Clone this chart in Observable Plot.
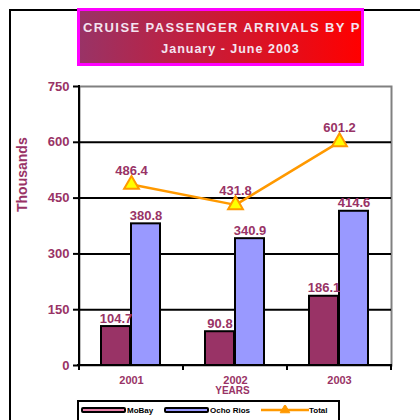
<!DOCTYPE html>
<html>
<head>
<meta charset="utf-8">
<script src="https://cdn.jsdelivr.net/npm/d3@7"></script>
<script src="https://cdn.jsdelivr.net/npm/@observablehq/plot@0.6"></script>
<style>
  html, body { margin: 0; padding: 0; background: #fff; }
  body { width: 420px; height: 420px; overflow: hidden; font-family: "Liberation Sans", Arial, sans-serif; }
  #wrap { position: relative; width: 420px; height: 420px; }
  #frame { position: absolute; left: 9px; top: 9px; width: 420px; height: 420px; border-left: 2px solid #000; border-top: 2px solid #000; }
  #title { position: absolute; left: 77px; top: 8px; width: 281px; height: 52px; border: 3px solid #FF00FF;
           background: linear-gradient(to right, #993366, #FF0000); overflow: hidden; color: #F4E4F0; font-weight: bold; }
  #t1 { position: absolute; left: 3px; top: 9px; white-space: nowrap; font-size: 13px; letter-spacing: 1.4px; }
  #t2 { position: absolute; left: 0; width: 100%; top: 31px; text-align: center; padding-left: 20px; box-sizing: border-box; white-space: nowrap; font-size: 12.5px; letter-spacing: 1px; }
  #chart { position: absolute; left: 0; top: 0; }
  #legend { position: absolute; left: 77px; top: 400px; width: 259px; height: 40px; border: 2px solid #000; background: #fff; }
  .item { position: absolute; top: 3px; font-size: 8px; font-weight: bold; color: #000; display: flex; align-items: center; height: 10px; }
  .sw { display: inline-block; width: 41px; height: 2px; border: 2px solid #000; border-radius: 2px; margin-right: 1px; }
</style>
</head>
<body>
<div id="wrap">
  <div id="frame"></div>
  <div id="chart"></div>
  <div id="title">
    <div id="t1">CRUISE PASSENGER ARRIVALS BY P</div>
    <div id="t2">January - June 2003</div>
  </div>
  <div id="legend"></div>
</div>
<script>
const years = ["2001", "2002", "2003"];
const mobay = [104.7, 90.8, 186.1];
const ochoRios = [380.8, 340.9, 414.6];
const total = [486.4, 431.8, 601.2];
const yTicks = [0, 150, 300, 450, 600, 750];
const seriesNames = ["MoBay", "Ocho Rios", "Total"];
const seriesColors = ["#993366", "#9999FF", "#FF9900"];

const labelColor = "#993366";
const fmt = d => d.toFixed(1);

function xAxisLines(index, scales, values, dims) {
  const x = scales.x;
  const bw = typeof x.bandwidth === "function" ? x.bandwidth() : x.bandwidth;
  const y0 = dims.height - dims.marginBottom;
  const yTop = dims.marginTop;
  const left = dims.marginLeft;
  const right = dims.width - dims.marginRight;
  const g = d3.create("svg:g").attr("stroke", "#000").attr("stroke-width", 2);
  g.append("line").attr("x1", left).attr("x2", left).attr("y1", yTop - 1).attr("y2", y0 + 5);
  g.append("line").attr("x1", left - 2).attr("x2", right + 1).attr("y1", y0).attr("y2", y0);
  const bounds = years.map(d => x(d)).concat([x(years[years.length - 1]) + bw]);
  for (const b of bounds) {
    g.append("line").attr("x1", b).attr("x2", b).attr("y1", y0).attr("y2", y0 + 5);
  }
  return g.node();
}

const chart = Plot.plot({
  width: 420,
  height: 420,
  marginLeft: 79,
  marginRight: 29,
  marginTop: 86,
  marginBottom: 55,
  style: { background: "transparent", fontFamily: "'Liberation Sans', Arial, sans-serif" },
  x: { domain: years, padding: 0, axis: null },
  y: { domain: [0, 750], axis: null },
  marks: [
    Plot.frame({ stroke: "#808080", strokeWidth: 2 }),
    Plot.ruleY(yTicks.slice(1, -1), { stroke: "#000", strokeWidth: 2 }),
    Plot.axisY({ ticks: yTicks, tickSize: 6, tickPadding: 4, tickFormat: d => d, stroke: "#000", strokeWidth: 2,
                 fill: labelColor, fontSize: 13, fontWeight: "bold", label: null }),
    Plot.barY(years, { x: years, y: mobay, fill: seriesColors[0], stroke: "#000", strokeWidth: 2, insetLeft: 22, insetRight: 53 }),
    Plot.barY(years, { x: years, y: ochoRios, fill: seriesColors[1], stroke: "#000", strokeWidth: 2, insetLeft: 52, insetRight: 23 }),
    xAxisLines,
    Plot.text(years, { x: years, y: mobay, text: mobay.map(fmt), dx: -15.5, dy: -8, fill: labelColor, fontSize: 13, fontWeight: "bold" }),
    Plot.text(years, { x: years, y: ochoRios, text: ochoRios.map(fmt), dx: 14.5, dy: -8, fill: labelColor, fontSize: 13, fontWeight: "bold" }),
    Plot.line(years, { x: years, y: total, stroke: seriesColors[2], strokeWidth: 2.5 }),
    Plot.dot(years, { x: years, y: total, symbol: "triangle", r: 5.5, fill: "#FFFF00", stroke: seriesColors[2], strokeWidth: 2 }),
    Plot.text(years, { x: years, y: total, text: total.map(fmt), dy: -14, fill: labelColor, fontSize: 13, fontWeight: "bold" }),
    Plot.text(years, { x: years, text: years, frameAnchor: "bottom", dy: 18, fill: labelColor, fontSize: 11, fontWeight: "bold" }),
    Plot.text(["YEARS"], { text: d => d, frameAnchor: "bottom", dy: 28, dx: -3, fill: labelColor, fontSize: 10, fontWeight: "bold" }),
    Plot.text(["Thousands"], { text: d => d, frameAnchor: "left", dx: -57, dy: -14, rotate: -90, fill: labelColor, fontSize: 14, fontWeight: "bold" })
  ]
});
document.getElementById("chart").appendChild(chart);

// legend
const legend = document.getElementById("legend");
const items = [
  { name: seriesNames[0], left: 2, kind: "bar", color: "#E880A8" },
  { name: seriesNames[1], left: 85, kind: "bar", color: "#9999FF" },
  { name: seriesNames[2], left: 182, kind: "line", color: seriesColors[2] }
];
for (const it of items) {
  const el = document.createElement("div");
  el.className = "item";
  el.style.left = it.left + "px";
  if (it.kind === "bar") {
    const sw = document.createElement("span");
    sw.className = "sw";
    sw.style.background = it.color;
    el.appendChild(sw);
  } else {
    const s = d3.create("svg").attr("width", 48).attr("height", 10);
    s.append("line").attr("x1", 0).attr("x2", 48).attr("y1", 5).attr("y2", 5).attr("stroke", it.color).attr("stroke-width", 2.5);
    s.append("path").attr("d", d3.symbol(d3.symbolTriangle, 40)()).attr("transform", "translate(24,5)")
      .attr("fill", it.color).attr("stroke", it.color);
    el.appendChild(s.node());
  }
  const t = document.createElement("span");
  t.textContent = it.name;
  el.appendChild(t);
  legend.appendChild(el);
}
</script>
</body>
</html>
